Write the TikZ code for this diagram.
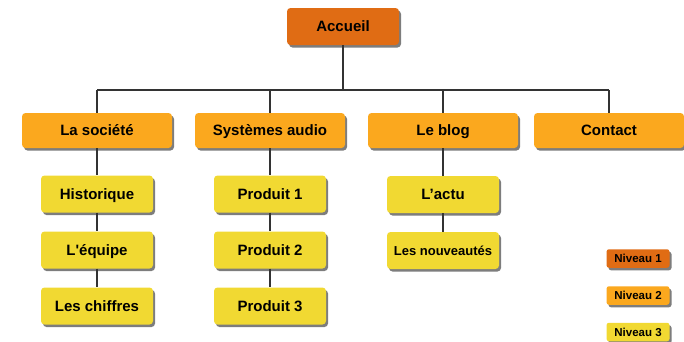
\documentclass[tikz,border=0pt]{standalone}
\usepackage{fontspec}
\setmainfont{Liberation Sans}
\usetikzlibrary{shadows}
\definecolor{lvlA}{HTML}{E06C14}
\definecolor{lvlB}{HTML}{FBA81E}
\definecolor{lvlC}{HTML}{F1D932}
\tikzset{
  boxbase/.style={rounded corners=3.5pt, inner sep=0pt, text height=10.8pt, text depth=0pt,
    font=\bfseries\fontsize{15}{17}\selectfont,
    drop shadow={shadow xshift=2pt, shadow yshift=-2.5pt, fill=black!60, opacity=0.85}},
  lvlone/.style={boxbase, fill=lvlA, minimum width=112pt, minimum height=37pt},
  lvltwo/.style={boxbase, fill=lvlB, minimum width=150pt, minimum height=35pt},
  lvlthree/.style={boxbase, fill=lvlC, minimum width=112pt, minimum height=37pt},
  legbox/.style={boxbase, rounded corners=2.5pt, text height=8.3pt, minimum width=63pt, minimum height=18.5pt, font=\bfseries\fontsize{11.5}{13}\selectfont},
  link/.style={draw=black!80, line width=1.5pt},
}
\begin{document}
\begin{tikzpicture}[x=1pt, y=-1pt]
\useasboundingbox (0,0) rectangle (684,341);
\node[lvlone] (acc) at (343,26.5) {Accueil};
\coordinate (bus) at (0,90);
\node[lvltwo] (soc) at (97,130.5) {La société};
\node[lvltwo] (sys) at (270,130.5) {Systèmes audio};
\node[lvltwo] (blog) at (443,130.5) {Le blog};
\node[lvltwo] (con) at (609,130.5) {Contact};
\node[lvlthree] (hist) at (97,194) {Historique};
\node[lvlthree] (equ) at (97,250) {L\textquotesingle équipe};
\node[lvlthree] (chif) at (97,306) {Les chiffres};
\node[lvlthree] (p1) at (270,194) {Produit 1};
\node[lvlthree] (p2) at (270,250) {Produit 2};
\node[lvlthree] (p3) at (270,306) {Produit 3};
\node[lvlthree] (actu) at (443,194.5) {L’actu};
\node[lvlthree, text height=9.6pt, font=\bfseries\fontsize{13}{15}\selectfont] (nouv) at (443,250.5) {Les nouveautés};
\node[legbox, fill=lvlA] (n1) at (638,258.5) {Niveau 1};
\node[legbox, fill=lvlB] (n2) at (638,295.5) {Niveau 2};
\node[legbox, fill=lvlC] (n3) at (638,332) {Niveau 3};
\draw[link] (acc.south) -- (acc.south |- bus);
\draw[link, line width=2pt] (soc.north |- bus) -- (con.north |- bus);
\foreach \n in {soc,sys,blog,con} \draw[link] (\n.north |- bus) -- (\n.north);
\draw[link] (soc.south) -- (hist.north);
\draw[link] (hist.south) -- (equ.north);
\draw[link] (equ.south) -- (chif.north);
\draw[link] (sys.south) -- (p1.north);
\draw[link] (p1.south) -- (p2.north);
\draw[link] (p2.south) -- (p3.north);
\draw[link] (blog.south) -- (actu.north);
\draw[link] (actu.south) -- (nouv.north);
\end{tikzpicture}
\end{document}
